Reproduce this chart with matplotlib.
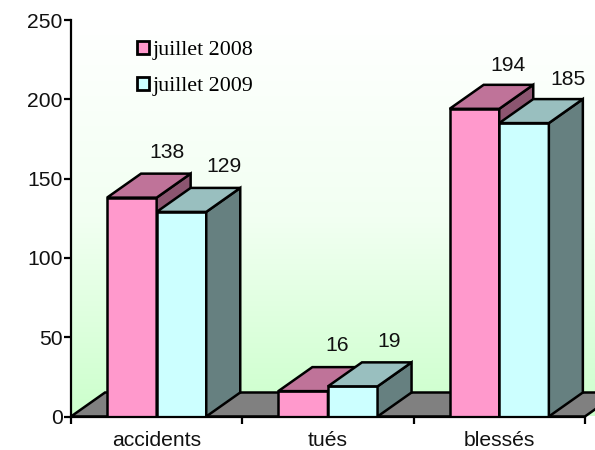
import numpy as np
import matplotlib
matplotlib.use("Agg")
import matplotlib.pyplot as plt
from matplotlib.colors import LinearSegmentedColormap
from matplotlib.patches import Polygon, Patch

categories = ["accidents", "tués", "blessés"]
series_names = ["juillet 2008", "juillet 2009"]
values_2008 = [138, 16, 194]
values_2009 = [129, 19, 185]
y_ticks = [0, 50, 100, 150, 200, 250]

W, H = 595, 450
fig = plt.figure(figsize=(W / 100, H / 100), dpi=100)
L, R, T, B = 71, 595, 20, 416.5
ax = fig.add_axes([L / W, (H - B) / H, (R - L) / W, (B - T) / H])
px_x = 171.3
px_y = (B - T) / 250
ax.set_xlim(0, (R - L) / px_x)
ax.set_ylim(0, 250)

dx, dy = 34 / px_x, 24 / px_y
bar_w = 49.6 / px_x
lw = 1.8
sans = "Liberation Sans"
serif = "Liberation Serif"
fs = 15.2

cmap = LinearSegmentedColormap.from_list("wall", ["#ccffcc", "#f2fff2", "#ffffff"])
ax.imshow(np.linspace(0, 1, 256).reshape(-1, 1), cmap=cmap, origin="lower", aspect="auto",
          extent=[0, ax.get_xlim()[1], 0, 250], zorder=0)
ax.set_xlim(0, (R - L) / px_x)
ax.set_ylim(0, 250)

n = len(categories)
ax.add_patch(Polygon([(0, 0), (n, 0), (n + dx, dy), (dx, dy)], closed=True,
                     fc="#808080", ec="black", lw=lw, zorder=1))

styles = [("#ff99cc", "#bf7399", "#8c5570"), ("#ccffff", "#99bfbf", "#668080")]
offsets = [(35, 45), (43, 45), (34, 46), (36, 45), (34, 43), (44, 44)]
z = 2
k = 0
for i in range(n):
    for j, vals in enumerate((values_2008, values_2009)):
        v = vals[i]
        x0 = i + 0.5 + (j - 1) * bar_w
        x1 = x0 + bar_w
        ax.bar(x0, v, bar_w, align="edge", fc=styles[j][0], ec="black", lw=lw, zorder=z)
        ax.add_patch(Polygon([(x1, 0), (x1 + dx, dy), (x1 + dx, v + dy), (x1, v)], closed=True,
                             fc=styles[j][2], ec="black", lw=lw, zorder=z))
        ax.add_patch(Polygon([(x0, v), (x1, v), (x1 + dx, v + dy), (x0 + dx, v + dy)], closed=True,
                             fc=styles[j][1], ec="black", lw=lw, zorder=z))
        ox, oy = offsets[k]
        k += 1
        ax.annotate(str(v), xy=((x0 + x1) / 2, v), xytext=(ox * 0.72, oy * 0.72),
                    textcoords="offset points", ha="center", va="center",
                    family=sans, fontsize=fs, color="#111111", zorder=20)
        z += 1

for s in ("top", "right"):
    ax.spines[s].set_visible(False)
for s in ("left", "bottom"):
    ax.spines[s].set_linewidth(1.6)
    ax.spines[s].set_zorder(15)
ax.spines["bottom"].set_bounds(0, n)

ax.set_yticks(y_ticks)
ax.set_xticks(np.arange(n + 1))
ax.set_xticklabels([])
ax.set_xticks(np.arange(n) + 0.5, minor=True)
ax.set_xticklabels(categories, minor=True, family=sans, fontsize=fs, color="#111111")
ax.tick_params(axis="x", which="minor", length=0, pad=10.5)
ax.tick_params(axis="x", which="major", length=5, width=1.6)
ax.tick_params(axis="y", length=5, width=1.6, pad=1)
for t in ax.get_yticklabels():
    t.set_family(sans)
    t.set_fontsize(fs)
    t.set_color("#111111")

handles = [Patch(fc=styles[0][0], ec="black", lw=2.0), Patch(fc=styles[1][0], ec="black", lw=2.0)]
ax.legend(handles, series_names, frameon=False, loc="upper left",
          bbox_to_anchor=(130 / W, 1 - 34 / H), bbox_transform=fig.transFigure,
          prop={"family": serif, "size": 15.8}, handlelength=0.55, handleheight=0.55,
          handletextpad=0.2, labelspacing=0.76, borderpad=0.3, borderaxespad=0)

fig.savefig("out.png", dpi=100)
